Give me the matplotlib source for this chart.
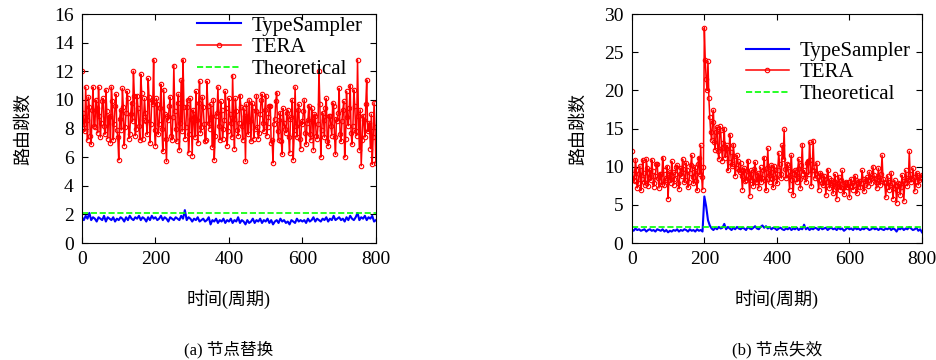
import numpy as np
import matplotlib
matplotlib.use('Agg')
import matplotlib.pyplot as plt

plt.rcParams['font.family'] = ['Liberation Serif', 'Noto Sans CJK SC']

# cycles, sampled every 5; TERA has extra samples halfway between
cycles = np.arange(0, 801, 5)
cycles_half = np.arange(2.5, 800, 5)

# (a) node replacement
tera_a = [12.0, 8.3, 10.9, 7.2, 9.5, 6.9, 10.9, 8.1, 9.4, 10.9,
          7.4, 9.9, 8.2, 10.7, 7.3, 8.9, 10.9, 7.2, 9.6, 7.9,
          5.8, 9.3, 10.8, 6.8, 9.1, 10.1, 7.6, 9.8, 12.0, 7.5,
          10.3, 8.2, 11.8, 7.3, 10.1, 8.5, 11.5, 7.0, 10.0, 12.8,
          6.8, 9.7, 8.3, 11.1, 6.4, 9.0, 5.7, 8.6, 10.2, 7.2,
          12.4, 8.0, 9.8, 6.5, 11.4, 12.8, 7.3, 9.5, 6.3, 10.1,
          6.1, 8.8, 10.6, 7.0, 11.3, 8.1, 9.5, 7.1, 11.3, 8.4,
          9.7, 6.7, 5.8, 8.9, 10.9, 7.2, 9.3, 8.0, 10.6, 6.8,
          10.1, 8.4, 11.7, 6.6, 9.2, 7.5, 10.3, 8.2, 9.4, 5.7,
          8.8, 10.0, 7.1, 9.5, 8.0, 10.3, 7.3, 9.0, 10.4, 7.8,
          10.3, 8.1, 9.6, 7.0, 5.6, 8.7, 10.5, 7.2, 9.1, 6.2,
          8.4, 7.7, 9.3, 6.3, 8.8, 5.8, 10.9, 7.4, 9.7, 6.6,
          8.3, 10.0, 6.9, 8.6, 7.6, 9.4, 6.5, 8.9, 7.3, 12.0,
          6.0, 9.1, 7.4, 10.1, 6.8, 8.9, 7.5, 9.6, 6.2, 8.5,
          10.8, 7.1, 9.3, 6.0, 10.6, 8.2, 11.0, 6.9, 10.7, 7.8,
          12.8, 6.5, 5.4, 8.9, 7.4, 11.4, 8.0, 6.6, 5.5, 9.8,
          5.6]
tera_a_half = [9.1, 7.8, 8.6, 10.2, 7.5, 9.3, 8.2, 10.0, 7.7, 8.9,
               8.4, 10.1, 7.6, 9.2, 8.8, 7.0, 9.9, 8.3, 10.4, 7.4,
               8.7, 7.9, 9.5, 8.1, 10.6, 7.3, 9.0, 8.5, 10.3, 8.0,
               9.4, 7.2, 10.5, 8.6, 9.1, 7.6, 10.2, 8.3, 9.7, 7.9,
               10.1, 7.6, 9.4, 8.0, 10.7, 7.3, 8.9, 9.6, 7.5, 8.8,
               9.2, 7.1, 10.4, 8.4, 7.8, 9.5, 8.1, 10.0, 7.6, 8.7,
               9.3, 7.4, 8.6, 9.8, 7.7, 10.2, 8.3, 7.2, 9.6, 8.0,
               8.8, 10.0, 7.5, 9.1, 8.2, 9.9, 7.3, 8.6, 9.4, 7.8,
               9.0, 7.4, 8.7, 10.1, 7.9, 8.4, 9.5, 7.2, 8.9, 9.7,
               7.6, 8.5, 9.8, 7.3, 9.2, 8.1, 7.7, 10.0, 8.4, 9.3,
               7.5, 8.8, 9.6, 7.2, 8.3, 9.9, 7.8, 8.6, 7.1, 9.4,
               8.0, 9.1, 7.4, 8.7, 10.0, 7.6, 8.2, 9.3, 7.3, 8.5,
               9.2, 7.7, 8.4, 9.6, 7.2, 8.8, 9.0, 7.5, 8.3, 9.7,
               7.9, 8.6, 9.4, 7.1, 8.9, 8.2, 9.8, 7.4, 8.7, 9.1,
               7.6, 8.5, 9.9, 7.3, 8.8, 9.4, 7.7, 8.2, 9.6, 7.5,
               8.9, 9.3, 7.2, 8.6, 9.7, 7.8, 8.4, 9.0, 7.4, 8.1]
ts_a = [1.8, 1.6, 1.9, 1.7, 2.1, 1.6, 1.8, 1.7, 1.5, 1.8,
        1.7, 1.6, 1.9, 1.5, 1.8, 1.7, 1.6, 1.8, 1.5, 1.7,
        1.6, 1.8, 1.7, 1.5, 1.8, 1.6, 1.9, 1.7, 1.6, 1.8,
        1.7, 1.9, 1.6, 1.8, 1.7, 1.5, 1.8, 1.6, 1.9, 1.7,
        1.8, 1.6, 1.7, 1.9, 1.6, 1.8, 1.7, 1.5, 1.8, 1.7,
        1.6, 1.8, 1.7, 1.6, 1.9, 1.7, 2.3, 1.6, 1.8, 1.7,
        1.5, 1.7, 1.6, 1.8, 1.5, 1.6, 1.7, 1.5, 1.6, 1.8,
        1.3, 1.6, 1.5, 1.7, 1.4, 1.6, 1.5, 1.7, 1.4, 1.6,
        1.5, 1.7, 1.4, 1.6, 1.5, 1.8, 1.4, 1.6, 1.5, 1.3,
        1.6, 1.4, 1.5, 1.7, 1.4, 1.6, 1.5, 1.7, 1.4, 1.6,
        1.5, 1.7, 1.4, 1.6, 1.3, 1.5, 1.6, 1.4, 1.7, 1.5,
        1.6, 1.4, 1.5, 1.3, 1.6, 1.5, 1.4, 1.7, 1.5, 1.6,
        1.5, 1.6, 1.4, 1.7, 1.5, 1.6, 1.8, 1.5, 1.7, 1.6,
        1.5, 1.7, 1.6, 1.8, 1.5, 1.7, 1.6, 1.9, 1.6, 1.7,
        1.8, 1.6, 1.7, 1.5, 1.8, 1.6, 1.9, 1.7, 1.6, 1.8,
        2.1, 1.6, 1.8, 1.7, 1.9, 1.6, 1.8, 1.7, 1.9, 1.5,
        1.6]
theo_a = 2.1

# (b) node failure
tera_b = [12.0, 8.3, 10.9, 7.2, 9.0, 6.9, 10.9, 8.0, 11.0, 7.5,
          9.5, 10.9, 7.4, 8.8, 10.4, 7.2, 9.0, 11.2, 7.6, 8.5,
          5.8, 9.3, 10.7, 7.6, 9.1, 10.2, 7.1, 9.8, 11.0, 8.0,
          10.5, 7.3, 9.2, 11.5, 7.8, 10.0, 6.9, 11.2, 12.8, 7.0,
          28.2, 21.5, 23.8, 16.5, 13.5, 17.4, 12.2, 15.2, 11.0, 14.8,
          10.8, 15.0, 12.3, 9.5, 14.2, 10.3, 12.9, 8.8, 11.5, 9.6,
          10.5, 7.0, 9.8, 8.2, 10.8, 6.2, 9.5, 7.5, 10.6, 8.0,
          7.2, 9.9, 8.5, 11.2, 6.9, 12.4, 8.0, 10.2, 7.3, 9.5,
          7.8, 11.8, 9.0, 12.8, 14.9, 8.5, 10.2, 7.0, 11.5, 6.3,
          9.6, 8.0, 11.0, 7.2, 12.9, 9.5, 8.0, 10.8, 13.2, 7.5,
          13.4, 8.5, 10.5, 7.0, 9.2, 7.8, 8.8, 6.3, 9.6, 7.2,
          8.2, 6.5, 9.0, 5.8, 8.7, 7.0, 9.5, 6.4, 8.0, 7.3,
          6.0, 8.4, 7.0, 8.8, 6.5, 8.0, 7.3, 9.5, 6.8, 8.2,
          7.5, 9.3, 7.8, 10.0, 8.5, 7.2, 9.8, 7.6, 11.5, 8.0,
          6.0, 8.8, 7.0, 9.2, 5.8, 8.2, 5.3, 7.8, 6.3, 8.9,
          5.5, 9.5, 7.5, 12.0, 8.0, 9.8, 6.8, 9.2, 7.6, 8.5,
          8.9]
tera_b_half = [9.0, 8.1, 9.6, 7.8, 10.1, 8.4, 9.2, 7.6, 9.8, 8.7,
               8.2, 9.4, 7.9, 10.3, 8.5, 9.1, 7.7, 9.6, 8.3, 10.0,
               8.6, 7.9, 9.3, 8.4, 10.0, 7.8, 9.1, 8.8, 9.7, 8.2,
               9.5, 8.0, 10.2, 8.7, 9.3, 8.1, 10.4, 9.0, 8.6, 9.9,
               24.0, 20.0, 19.0, 14.5, 15.8, 13.2, 14.6, 12.0, 15.3, 12.4,
               13.1, 11.2, 12.8, 10.6, 11.9, 10.1, 11.4, 9.8, 10.7, 9.3,
               8.8, 9.6, 8.1, 9.4, 8.5, 9.0, 8.3, 9.7, 8.0, 9.2,
               8.6, 8.0, 9.5, 8.3, 9.8, 8.9, 9.3, 8.4, 10.1, 8.7,
               9.6, 10.4, 8.5, 11.0, 9.7, 10.3, 8.8, 9.4, 8.2, 9.0,
               8.9, 9.7, 8.4, 10.2, 9.1, 8.6, 10.5, 9.0, 10.9, 9.6,
               10.0, 9.2, 8.6, 8.3, 8.9, 7.6, 8.4, 8.0, 8.5, 7.9,
               7.6, 8.1, 7.3, 7.9, 7.5, 8.2, 7.2, 7.8, 7.4, 8.0,
               7.5, 7.9, 7.6, 8.3, 7.4, 8.1, 7.8, 8.4, 7.6, 8.6,
               8.2, 8.7, 8.5, 8.9, 8.0, 8.6, 8.3, 9.1, 8.4, 7.8,
               7.4, 8.0, 7.6, 7.9, 7.2, 7.5, 7.0, 7.7, 7.3, 8.1,
               7.8, 8.5, 8.2, 9.0, 8.4, 8.7, 8.1, 8.9, 8.3, 8.6]
ts_b = [1.8, 1.6, 1.9, 1.7, 1.8, 1.6, 1.7, 1.8, 1.5, 1.7,
        1.8, 1.6, 1.7, 1.5, 1.8, 1.7, 1.6, 1.8, 1.5, 1.7,
        1.4, 1.6, 1.5, 1.7, 1.6, 1.8, 1.5, 1.7, 1.6, 1.8,
        1.7, 1.5, 1.8, 1.6, 1.7, 1.5, 1.8, 1.6, 1.7, 1.5,
        6.1, 4.8, 3.0, 2.3, 1.9, 1.7, 2.0, 1.8, 2.1, 1.9,
        2.0, 2.5, 1.8, 2.1, 1.9, 1.7, 2.0, 1.8, 2.1, 1.9,
        1.8, 2.0, 1.9, 1.7, 2.1, 1.9, 1.8, 2.0, 2.2, 1.9,
        1.8, 2.1, 2.3, 2.0, 2.2, 1.9, 2.1, 1.8, 2.0, 1.9,
        1.7, 1.9, 2.0, 1.8, 1.7, 1.9, 1.8, 2.0, 1.7, 1.9,
        1.8, 2.0, 1.7, 1.9, 1.8, 2.4, 1.8, 2.0, 1.7, 1.9,
        1.8, 2.0, 1.9, 1.7, 2.1, 1.8, 1.9, 2.0, 1.7, 1.9,
        2.0, 1.8, 1.9, 1.7, 2.0, 1.8, 1.9, 1.6, 1.8, 2.0,
        1.8, 1.9, 1.7, 2.0, 1.8, 1.9, 1.7, 1.9, 1.8, 2.0,
        1.9, 1.7, 1.8, 2.0, 1.8, 1.9, 1.7, 1.9, 1.8, 1.7,
        1.9, 1.8, 2.0, 1.7, 1.9, 1.8, 1.5, 1.9, 1.8, 2.0,
        1.7, 1.9, 1.8, 2.1, 1.9, 1.7, 1.8, 2.0, 1.6, 1.8,
        1.4]
theo_b = 2.1


def merge(full, half):
    x = np.concatenate([cycles, cycles_half])
    y = np.concatenate([full, half])
    order = np.argsort(x)
    return x[order], y[order]


fig = plt.figure(figsize=(9.36, 3.6), dpi=100)
ax1 = fig.add_axes([0.0876, 0.325, 0.314, 0.636])
ax2 = fig.add_axes([0.675, 0.325, 0.310, 0.636])

panels = [
    (ax1, tera_a, tera_a_half, ts_a, theo_a, 16, [0, 2, 4, 6, 8, 10, 12, 14, 16],
     '(a) 节点替换', (0.343, 1.055), 16),
    (ax2, tera_b, tera_b_half, ts_b, theo_b, 30, [0, 5, 10, 15, 20, 25, 30],
     '(b) 节点失效', (0.342, 0.945), 12),
]

for ax, tera, tera_h, ts, theo, ymax, yt, cap, anchor, ypad in panels:
    tx, ty = merge(tera, tera_h)
    ax.plot(cycles, ts, color='#0000ff', lw=1.5, label='TypeSampler')
    ax.plot(tx, ty, color='#ff0000', lw=1.1, marker='o', ms=3.2,
            mfc='none', mew=0.8, label='TERA')
    ax.plot([0, 800], [theo, theo], color='#00ff00', ls='--', lw=1.2,
            label='Theoretical')
    ax.set_xlim(0, 800)
    ax.set_ylim(0, ymax)
    ax.set_xticks([0, 200, 400, 600, 800])
    ax.set_yticks(yt)
    ax.tick_params(direction='in', top=True, right=True, labelsize=14, length=4, pad=6)
    ax.set_xlabel('时间(周期)', fontsize=13, labelpad=15)
    ax.set_ylabel('路由跳数', fontsize=13, labelpad=ypad)
    ax.legend(loc='upper left', bbox_to_anchor=anchor, frameon=False,
              fontsize=15, handlelength=2.1, borderpad=0.2, labelspacing=0.1,
              handletextpad=0.5)
    ax.text(0.5, -0.467, cap, transform=ax.transAxes, ha='center', va='center', fontsize=12)

plt.savefig('out.png', dpi=100)
